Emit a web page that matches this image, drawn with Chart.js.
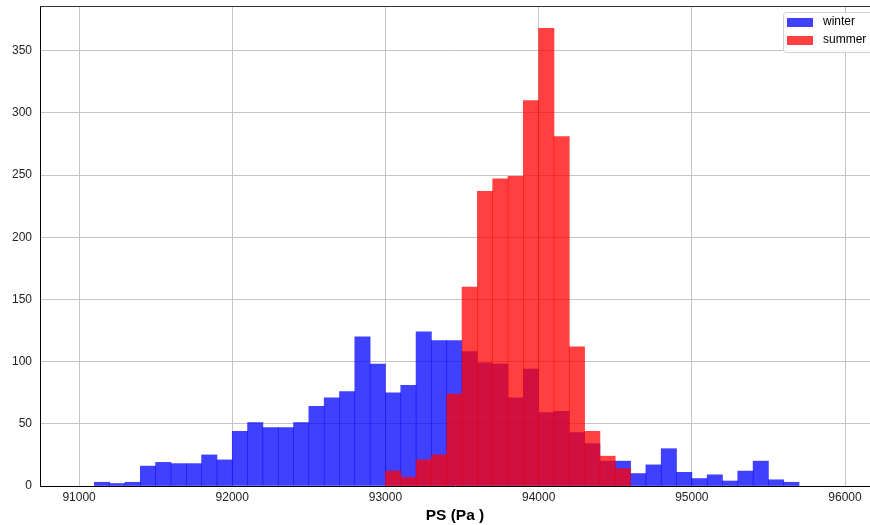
<!DOCTYPE html>
<html>
<head>
<meta charset="utf-8">
<script src="https://cdn.jsdelivr.net/npm/chart.js@4/dist/chart.umd.min.js"></script>
<style>
  html, body { margin: 0; padding: 0; background: #fff; }
  #wrap { width: 870px; height: 525px; position: relative; }
</style>
</head>
<body>
<div id="wrap"><canvas id="c" width="870" height="525"></canvas></div>
<script>
// ---- data ----
const seriesNames = ["winter", "summer"];
const binWidth = 100;
const winterBinStarts = [91100, 91200, 91300, 91400, 91500, 91600, 91700, 91800, 91900,
  92000, 92100, 92200, 92300, 92400, 92500, 92600, 92700, 92800, 92900,
  93000, 93100, 93200, 93300, 93400, 93500, 93600, 93700, 93800, 93900,
  94000, 94100, 94200, 94300, 94400, 94500, 94600, 94700, 94800, 94900,
  95000, 95100, 95200, 95300, 95400, 95500, 95600];
const winterCounts = [3, 2, 3, 16, 19, 18, 18, 25, 21,
  44, 51, 47, 47, 51, 64, 71, 76, 120, 98,
  75, 81, 124, 117, 117, 108, 99, 98, 71, 94,
  59, 60, 43, 34, 20, 20, 10, 17, 30, 11,
  6, 9, 4, 12, 20, 5, 3];
const summerBinStarts = [93000, 93100, 93200, 93300, 93400, 93500, 93600, 93700,
  93800, 93900, 94000, 94100, 94200, 94300, 94400, 94500];
const summerCounts = [12, 7, 21, 25, 74, 160, 237, 247,
  249, 310, 368, 281, 112, 44, 24, 14];
const xTickValues = [91000, 92000, 93000, 94000, 95000, 96000];
const yTickValues = [0, 50, 100, 150, 200, 250, 300, 350];
const xLabel = "PS (Pa )";

const toPoints = (starts, counts) => starts.map((s, i) => ({ x: s + binWidth / 2, y: counts[i] }));

const FONT = "Arial, 'Liberation Sans', sans-serif";

const frameAndLegend = {
  id: 'frameAndLegend',
  afterDraw(chart) {
    const ctx = chart.ctx;
    const a = chart.chartArea;
    ctx.save();
    // top spine
    ctx.strokeStyle = '#333';
    ctx.lineWidth = 1;
    ctx.beginPath();
    ctx.moveTo(a.left, a.top + 0.5);
    ctx.lineTo(a.right, a.top + 0.5);
    ctx.stroke();
    // legend
    const bx = 783, by = 12, bw = 100, bh = 40;
    ctx.fillStyle = 'rgba(255,255,255,0.85)';
    ctx.strokeStyle = '#d0d0d0';
    ctx.beginPath();
    ctx.roundRect(bx + 0.5, by + 0.5, bw, bh, 3);
    ctx.fill();
    ctx.stroke();
    ctx.font = "12px " + FONT;
    ctx.textBaseline = 'middle';
    chart.data.datasets.forEach((ds, i) => {
      const cy = 22 + i * 18;
      ctx.fillStyle = ds.backgroundColor;
      ctx.fillRect(787, cy - 4, 26, 9);
      ctx.fillStyle = '#000';
      ctx.fillText(ds.label, 823, cy);
    });
    ctx.restore();
  }
};

new Chart(document.getElementById('c'), {
  type: 'bar',
  data: {
    datasets: [
      {
        label: seriesNames[0],
        data: toPoints(winterBinStarts, winterCounts),
        backgroundColor: 'rgba(0,0,255,0.75)',
        borderWidth: 0,
        barPercentage: 1.0,
        categoryPercentage: 1.0,
        order: 2
      },
      {
        label: seriesNames[1],
        data: toPoints(summerBinStarts, summerCounts),
        backgroundColor: 'rgba(255,0,0,0.75)',
        borderWidth: 0,
        barPercentage: 1.0,
        categoryPercentage: 1.0,
        order: 1
      }
    ]
  },
  options: {
    responsive: false,
    animation: false,
    devicePixelRatio: 1,
    grouped: false,
    layout: { padding: { top: 6, right: 0, left: 0, bottom: 0 } },
    plugins: {
      legend: { display: false },
      tooltip: { enabled: false },
      title: { display: false }
    },
    scales: {
      x: {
        type: 'linear',
        min: 90745,
        max: 96163,
        offset: false,
        afterBuildTicks: (s) => { s.ticks = xTickValues.map(v => ({ value: v })); },
        afterFit: (s) => { s.height = 39; s.paddingLeft = 0; s.paddingRight = 0; },
        ticks: {
          font: { family: FONT, size: 12 },
          color: '#222',
          padding: 4,
          maxRotation: 0,
          autoSkip: false,
          callback: (v) => String(v)
        },
        grid: { color: '#c4c4c4', lineWidth: 1, drawTicks: false, offset: false },
        border: { display: true, color: '#000', width: 1 },
        title: {
          display: true,
          text: xLabel,
          font: { family: FONT, size: 15.5, weight: 'bold' },
          color: '#000',
          padding: { top: 1, bottom: 0 }
        }
      },
      y: {
        type: 'linear',
        min: 0,
        max: 386,
        afterBuildTicks: (s) => { s.ticks = yTickValues.map(v => ({ value: v })); },
        afterFit: (s) => { s.width = 40; s.paddingTop = 0; s.paddingBottom = 0; },
        ticks: {
          font: { family: FONT, size: 12 },
          color: '#222',
          padding: 8
        },
        grid: { color: '#c4c4c4', lineWidth: 1, drawTicks: false },
        border: { display: true, color: '#000', width: 1 }
      }
    }
  },
  plugins: [frameAndLegend]
});
</script>
</body>
</html>
